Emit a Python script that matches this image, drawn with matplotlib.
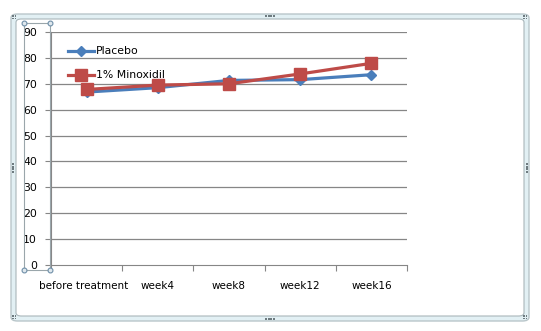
import matplotlib.pyplot as plt
from matplotlib.patches import FancyBboxPatch, Rectangle
from matplotlib.lines import Line2D

categories = ["before treatment", "week4", "week8", "week12", "week16"]
placebo = [66.8, 68.5, 71.3, 71.6, 73.5]
minoxidil = [67.8, 69.5, 70.0, 73.8, 77.9]
y_ticks = [0, 10, 20, 30, 40, 50, 60, 70, 80, 90]

W, H = 541, 331
fig = plt.figure(figsize=(W / 100, H / 100), dpi=100)


def fx(px):
    return px / W


def fy(py):
    return 1 - py / H


# Excel-style chart frame (selected chart), kept behind the axes
outer = FancyBboxPatch((fx(11), fy(321)), fx(518), (321 - 14) / H,
                       boxstyle="round,pad=0,rounding_size=0.012",
                       transform=fig.transFigure, facecolor="#e2f0f4",
                       edgecolor="#b9c6ca", linewidth=1.0, zorder=-2)
fig.patches.append(outer)
inner = FancyBboxPatch((fx(16), fy(316)), fx(508), (316 - 19) / H,
                       boxstyle="round,pad=0,rounding_size=0.01",
                       transform=fig.transFigure, facecolor="white",
                       edgecolor="#a9b6ba", linewidth=0.8, zorder=-1)
fig.patches.append(inner)

# resize handles
for hx, hy, horiz in [(270, 16, True), (270, 319, True), (13, 168, False), (527, 168, False)]:
    for k in range(4):
        ox, oy = ((k - 1.5) * 2.5, 0) if horiz else (0, (k - 1.5) * 2.5)
        fig.patches.append(Rectangle((fx(hx + ox - 0.8), fy(hy + oy + 0.8)), 1.6 / W, 1.6 / H,
                                     transform=fig.transFigure, color="#6e7b80", lw=0))
for cx, cy in [(13, 16), (524, 16), (13, 316), (524, 316)]:
    for ox, oy in [(0, 0), (2.5, 0), (0, 2.5), (2.5, 2.5)]:
        fig.patches.append(Rectangle((fx(cx + ox - 0.8), fy(cy + oy + 0.8)), 1.6 / W, 1.6 / H,
                                     transform=fig.transFigure, color="#6e7b80", lw=0))

ax = fig.add_axes([fx(51), fy(265), fx(356), (265 - 32) / H])
ax.patch.set_alpha(0)
x = list(range(len(categories)))

ax.plot(x, placebo, color="#4a7ebb", lw=2.3, marker="D", markersize=5,
        label="Placebo", zorder=3)
ax.plot(x, minoxidil, color="#be4b48", lw=2.3, marker="s", markersize=8,
        label="1% Minoxidil", zorder=4)

ax.set_xlim(-0.5, len(categories) - 0.5)
ax.set_ylim(0, 90)
ax.set_yticks(y_ticks)
ax.set_yticklabels([str(v) for v in y_ticks], fontsize=7.8)
for yv in y_ticks[1:]:
    ax.axhline(yv, color="#868686", lw=0.9, zorder=1)
ax.set_xticks([i - 0.5 for i in range(len(categories) + 1)])
ax.set_xticklabels([])
ax.tick_params(axis="x", length=4, color="#868686", direction="out")
ax.tick_params(axis="y", length=4, color="#868686", direction="out", pad=6)
for i, c in enumerate(categories):
    ax.text(i - (0.04 if i == 0 else 0), -0.09, c, transform=ax.get_xaxis_transform(),
            ha="center", va="center", fontsize=7.5)
for s in ["top", "right"]:
    ax.spines[s].set_visible(False)
ax.spines["left"].set_color("#868686")
ax.spines["bottom"].set_color("#868686")

leg = ax.legend(loc="upper left", bbox_to_anchor=(0.02, 0.98), frameon=False,
                fontsize=7.8, handlelength=2.4, labelspacing=1.3, handletextpad=0.2)

# y-axis selection box with handles
sel = Line2D([fx(24), fx(50), fx(50), fx(24), fx(24)],
             [fy(23), fy(23), fy(270), fy(270), fy(23)],
             transform=fig.transFigure, color="#9aa6ab", lw=0.8)
fig.lines.append(sel)
for hx, hy in [(24, 23), (50, 23), (24, 270), (50, 270)]:
    fig.lines.append(Line2D([fx(hx)], [fy(hy)], transform=fig.transFigure,
                            marker="o", markersize=3.5, markerfacecolor="#dfe8ee",
                            markeredgecolor="#6f8fa8", markeredgewidth=0.8, lw=0))

fig.savefig("out.png", dpi=100)
